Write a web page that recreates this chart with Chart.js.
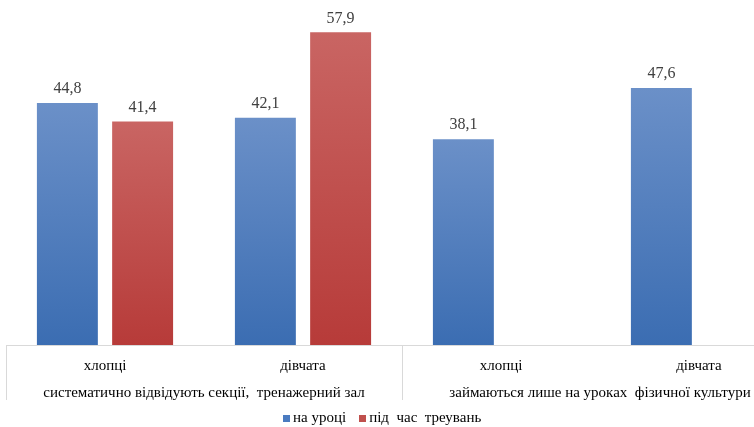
<!DOCTYPE html>
<html>
<head>
<meta charset="utf-8">
<script src="https://cdn.jsdelivr.net/npm/chart.js@4/dist/chart.umd.min.js"></script>
<style>
  html, body { margin: 0; padding: 0; background: #fff; overflow: hidden; }
  #wrap { position: relative; width: 800px; height: 427px; }
  #legend { position: absolute; left: 283px; top: 409px; font: 15px "Liberation Serif", serif; color: #000; white-space: pre; }
  #legend span.box { display: inline-block; width: 7px; height: 7px; margin-right: 3px; }
  #legend span.item { margin-right: 13px; }
</style>
</head>
<body>
<div id="wrap">
  <canvas id="chart" width="800" height="427"></canvas>
  <div id="legend"></div>
</div>
<script>
// data
const categories = ['хлопці', 'дівчата', 'хлопці', 'дівчата'];
const groups = ['систематично відвідують секції,  тренажерний зал', 'займаються лише на уроках  фізичної культури'];
const naUrotsi = [44.8, 42.1, 38.1, 47.6];
const pidChasTrenuvan = [41.4, 57.9, null, null];
const seriesNames = ['на уроці', 'під  час  треувань'];

const serif = '"Liberation Serif", "Times New Roman", serif';

// per bar gradient, light at top, darker at bottom
const barGradient = (top, bottom) => (ctx) => {
  const chart = ctx.chart;
  if (!chart.chartArea || ctx.raw == null) return bottom;
  const y = chart.scales.y;
  const y0 = y.getPixelForValue(ctx.raw);
  const y1 = y.getPixelForValue(0);
  const g = chart.ctx.createLinearGradient(0, y0, 0, y1);
  g.addColorStop(0, top);
  g.addColorStop(1, bottom);
  return g;
};

// values above the bars
const valueLabels = {
  id: 'valueLabels',
  afterDatasetsDraw(chart) {
    const ctx = chart.ctx;
    ctx.save();
    ctx.font = '16px ' + serif;
    ctx.fillStyle = '#404040';
    ctx.textAlign = 'center';
    ctx.textBaseline = 'bottom';
    chart.data.datasets.forEach((ds, i) => {
      chart.getDatasetMeta(i).data.forEach((bar, j) => {
        if (ds.data[j] == null) return;
        ctx.fillText(ds.data[j].toFixed(1).replace('.', ','), bar.x, bar.y - 6);
      });
    });
    ctx.restore();
  }
};

// group labels and separators under the axis
const groupAxis = {
  id: 'groupAxis',
  afterDraw(chart) {
    const ctx = chart.ctx;
    const x = chart.scales.x;
    const base = chart.chartArea.bottom;
    const mid = (x.getPixelForTick(1) + x.getPixelForTick(2)) / 2;
    ctx.save();
    ctx.strokeStyle = '#d9d9d9';
    ctx.lineWidth = 1;
    [x.left, mid, x.right].forEach(px => {
      ctx.beginPath();
      ctx.moveTo(Math.round(px) + 0.5, base);
      ctx.lineTo(Math.round(px) + 0.5, base + 55);
      ctx.stroke();
    });
    ctx.font = '15px ' + serif;
    ctx.fillStyle = '#000';
    ctx.textAlign = 'center';
    ctx.textBaseline = 'middle';
    groups.forEach((g, i) => {
      const cx = (x.getPixelForTick(i * 2) + x.getPixelForTick(i * 2 + 1)) / 2;
      ctx.fillText(g, cx, base + 48);
    });
    ctx.restore();
  }
};

new Chart(document.getElementById('chart'), {
  type: 'bar',
  data: {
    labels: categories,
    datasets: [
      {
        label: seriesNames[0],
        data: naUrotsi,
        backgroundColor: barGradient('#6b90c8', '#3b6db2'),
        categoryPercentage: 0.76,
        barPercentage: 0.81
      },
      {
        label: seriesNames[1],
        data: pidChasTrenuvan,
        backgroundColor: barGradient('#c96563', '#b73b39'),
        categoryPercentage: 0.76,
        barPercentage: 0.81
      }
    ]
  },
  options: {
    responsive: false,
    animation: false,
    layout: { padding: { top: 21, left: 6, right: 2, bottom: 48 } },
    plugins: {
      legend: { display: false },
      tooltip: { enabled: false }
    },
    scales: {
      x: {
        grid: { display: false },
        border: { display: true, color: '#d9d9d9' },
        ticks: { font: { family: serif, size: 15 }, color: '#000', padding: 4 }
      },
      y: {
        display: false,
        min: 0,
        max: 60
      }
    }
  },
  plugins: [valueLabels, groupAxis]
});

// legend as html
const legendColors = ['#4a7bc0', '#c0504d'];
document.getElementById('legend').innerHTML = seriesNames.map((n, i) =>
  '<span class="item"><span class="box" style="background:' + legendColors[i] + '"></span>' + n + '</span>'
).join('');
</script>
</body>
</html>
